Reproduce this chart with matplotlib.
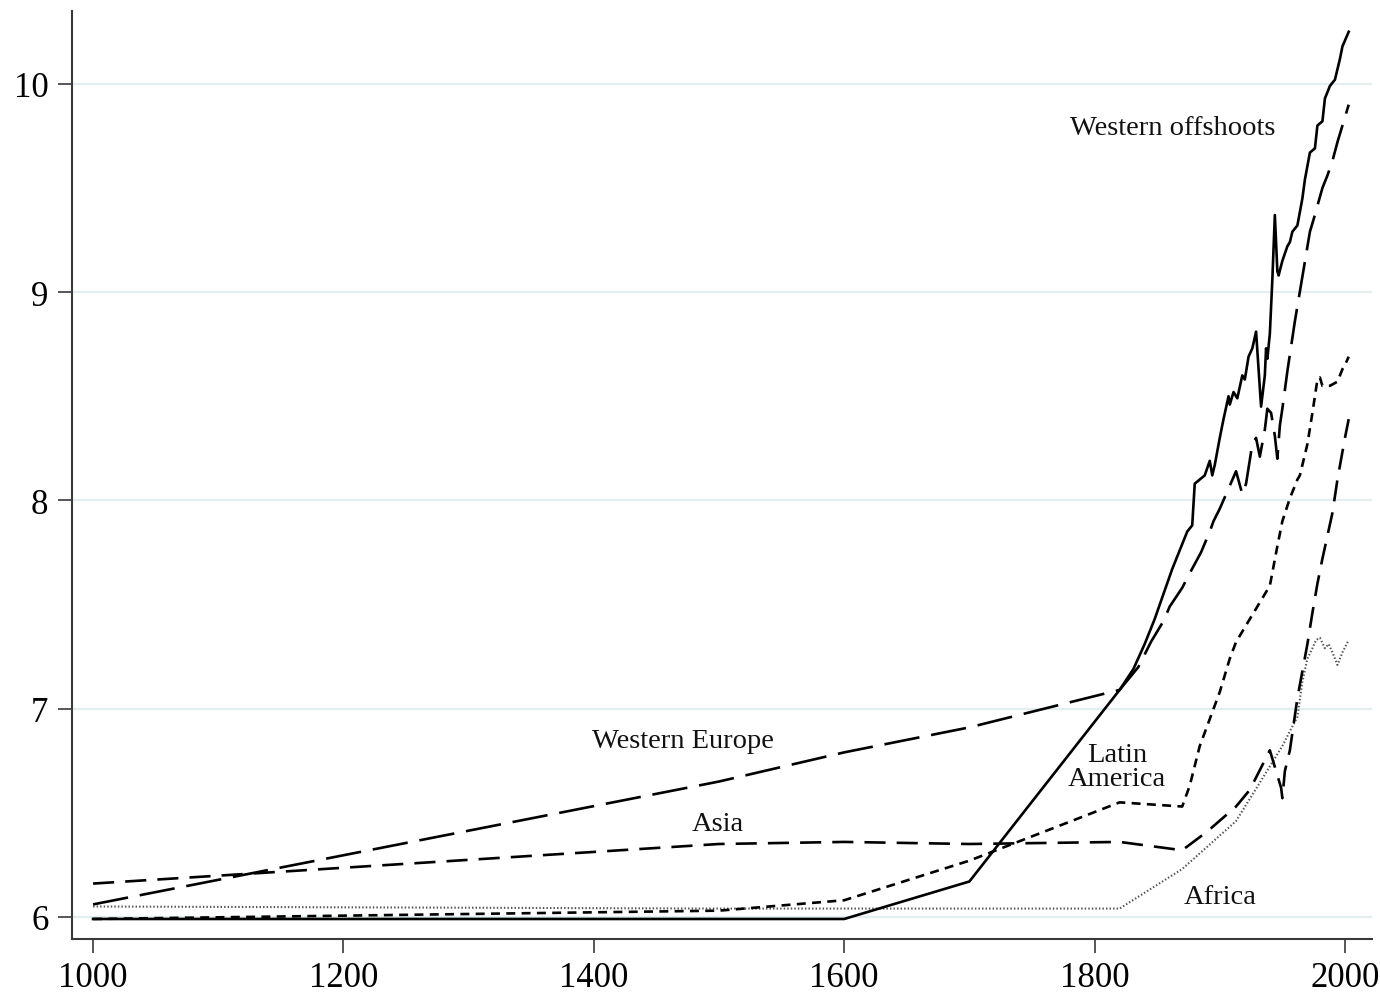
import matplotlib
matplotlib.use("Agg")
import matplotlib.pyplot as plt

plt.rcParams['font.family'] = ['Liberation Serif', 'DejaVu Serif']

# log GDP per capita by region
wo_years = [1000, 1500, 1600, 1700, 1820, 1831, 1840, 1848, 1855, 1862, 1868, 1874, 1878, 1880,
            1884, 1888, 1892, 1894, 1896, 1900, 1903, 1907, 1908, 1911, 1914, 1918, 1920, 1923,
            1926, 1929, 1933, 1936, 1937, 1938, 1940, 1942, 1944, 1946, 1947, 1950, 1954, 1956,
            1958, 1962, 1966, 1968, 1972, 1976, 1978, 1982, 1984, 1988, 1992, 1996, 1998, 2003]
wo_vals = [5.99, 5.99, 5.99, 6.17, 7.09, 7.19, 7.31, 7.43, 7.55, 7.67, 7.76, 7.85, 7.88, 8.08,
           8.10, 8.12, 8.19, 8.12, 8.17, 8.30, 8.39, 8.50, 8.46, 8.52, 8.49, 8.60, 8.58, 8.69,
           8.73, 8.81, 8.45, 8.60, 8.73, 8.68, 8.80, 9.06, 9.37, 9.10, 9.08, 9.15, 9.22, 9.24,
           9.29, 9.32, 9.45, 9.54, 9.67, 9.69, 9.80, 9.82, 9.93, 9.99, 10.02, 10.12, 10.18, 10.25]

we_years = [1000, 1500, 1600, 1700, 1820, 1835, 1845, 1855, 1860, 1870, 1876, 1885, 1892, 1895,
            1900, 1908, 1913, 1918, 1921, 1926, 1929, 1932, 1936, 1938, 1941, 1944, 1946, 1948,
            1950, 1954, 1960, 1967, 1972, 1975, 1982, 1986, 1990, 1994, 1998, 2003]
we_vals = [6.06, 6.65, 6.79, 6.91, 7.09, 7.20, 7.32, 7.42, 7.49, 7.58, 7.65, 7.75, 7.85, 7.90,
           7.96, 8.07, 8.14, 8.03, 8.08, 8.27, 8.30, 8.21, 8.34, 8.44, 8.42, 8.31, 8.20, 8.36,
           8.44, 8.62, 8.86, 9.11, 9.29, 9.35, 9.50, 9.56, 9.63, 9.72, 9.80, 9.90]

la_years = [1000, 1500, 1600, 1700, 1820, 1870, 1876, 1884, 1892, 1900, 1908, 1913, 1924, 1940,
            1946, 1950, 1956, 1962, 1964, 1970, 1974, 1978, 1980, 1982, 1988, 1994, 1998, 2000, 2003]
la_vals = [5.99, 6.03, 6.08, 6.27, 6.55, 6.53, 6.63, 6.82, 6.95, 7.08, 7.24, 7.32, 7.43, 7.59,
           7.78, 7.90, 8.01, 8.10, 8.12, 8.27, 8.42, 8.58, 8.59, 8.55, 8.55, 8.57, 8.63, 8.65, 8.69]

asia_years = [1000, 1500, 1600, 1700, 1820, 1870, 1890, 1913, 1924, 1940, 1945, 1949, 1950, 1952,
              1956, 1962, 1966, 1970, 1974, 1978, 1982, 1990, 1994, 2000, 2003]
asia_vals = [6.16, 6.35, 6.36, 6.35, 6.36, 6.32, 6.41, 6.53, 6.61, 6.80, 6.70, 6.62, 6.57, 6.70,
             6.80, 7.05, 7.18, 7.31, 7.46, 7.60, 7.72, 7.94, 8.10, 8.30, 8.39]

af_years = [1000, 1500, 1600, 1700, 1820, 1870, 1913, 1950, 1955, 1962, 1966, 1970, 1974, 1977,
            1980, 1984, 1987, 1990, 1994, 1998, 2003]
af_vals = [6.05, 6.04, 6.04, 6.04, 6.04, 6.23, 6.46, 6.82, 6.88, 6.96, 7.13, 7.24, 7.29, 7.33,
           7.34, 7.29, 7.31, 7.27, 7.21, 7.27, 7.33]

# region labels: (text, year, value)
labels = [("Western offshoots", 1862, 9.79),
          ("Western Europe", 1471, 6.845),
          ("Asia", 1499, 6.447),
          ("Latin\nAmerica", 1818, 6.72),
          ("Africa", 1900, 6.096)]

fig = plt.figure(figsize=(13.8, 9.95), dpi=100)
ax = fig.add_axes([0.0522, 0.0553, 0.9420, 0.9327])

for y in [6, 7, 8, 9, 10]:
    ax.axhline(y, color='#e3eef1', lw=1.6, zorder=0)

ax.plot(af_years, af_vals, color='#555555', lw=1.5, linestyle=(0, (0.7, 1.0)), zorder=2)
ax.plot(asia_years, asia_vals, color='black', lw=1.9, linestyle=(0, (8.0, 4.2)), zorder=3)
ax.plot(la_years, la_vals, color='black', lw=1.9, linestyle=(0, (3.4, 2.4)), zorder=3)
ax.plot(we_years, we_vals, color='black', lw=1.9, linestyle=(0, (13.5, 4.5)), zorder=3)
ax.plot(wo_years, wo_vals, color='black', lw=1.9, linestyle='-', zorder=4)

for text, x, y in labels:
    ax.text(x, y, text, ha='center', va='center', fontsize=20.5, linespacing=0.95,
            color='#111111')

ax.set_xlim(983.2, 2021.6)
ax.set_ylim(5.894, 10.35)
ax.set_xticks([1000, 1200, 1400, 1600, 1800, 2000])
ax.set_yticks([6, 7, 8, 9, 10])

for side in ['top', 'right']:
    ax.spines[side].set_visible(False)
for side in ['left', 'bottom']:
    ax.spines[side].set_color('#3a3a3a')
    ax.spines[side].set_linewidth(1.5)

ax.tick_params(axis='both', direction='out', length=10, width=1.2, color='#3a3a3a',
               labelsize=25)
ax.tick_params(axis='y', pad=7)
ax.tick_params(axis='x', pad=6)

fig.savefig('out.png', dpi=100)
